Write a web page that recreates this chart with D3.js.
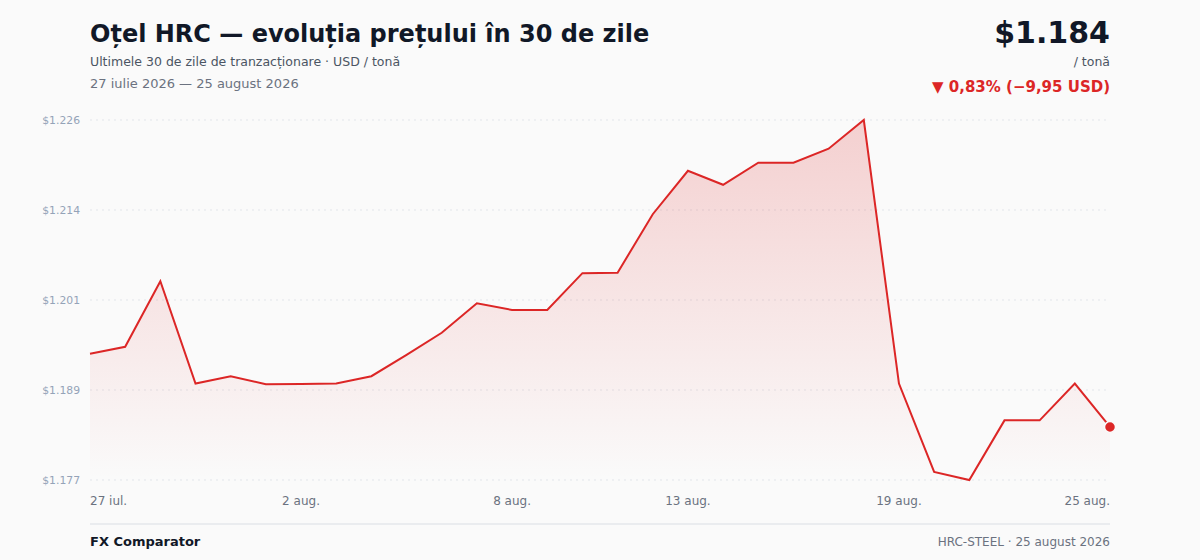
<!DOCTYPE html>
<html>
<head>
<meta charset="utf-8">
<script src="https://cdn.jsdelivr.net/npm/d3@7"></script>
<style>
  html, body { margin: 0; padding: 0; background: #fafafa; }
  body { width: 1200px; height: 560px; overflow: hidden; font-family: "DejaVu Sans", sans-serif; }
</style>
</head>
<body>
<div id="chart"></div>
<script>
// 30 zile de tranzactionare, 27 iulie - 25 august 2026
const dates = [
  "2026-07-27", "2026-07-28", "2026-07-29", "2026-07-30", "2026-07-31",
  "2026-08-01", "2026-08-02", "2026-08-03", "2026-08-04", "2026-08-05",
  "2026-08-06", "2026-08-07", "2026-08-08", "2026-08-09", "2026-08-10",
  "2026-08-11", "2026-08-12", "2026-08-13", "2026-08-14", "2026-08-15",
  "2026-08-16", "2026-08-17", "2026-08-18", "2026-08-19", "2026-08-20",
  "2026-08-21", "2026-08-22", "2026-08-23", "2026-08-24", "2026-08-25"
];

// pret USD / tona
const prices = [
  1194.15, 1195.1, 1204.0, 1190.1, 1191.1,
  1190.0, 1190.05, 1190.1, 1191.1, 1194.0,
  1197.0, 1201.0, 1200.1, 1200.1, 1205.1,
  1205.15, 1213.1, 1219.0, 1217.1, 1220.1,
  1220.1, 1222.0, 1225.9, 1190.1, 1178.1,
  1177.0, 1185.1, 1185.1, 1190.1, 1184.2
];

// indexurile zilelor etichetate pe axa x
const xTickIdx = [0, 6, 12, 17, 23, 29];
const monthShort = ["ian.", "feb.", "mar.", "apr.", "mai", "iun.", "iul.", "aug.", "sep.", "oct.", "nov.", "dec."];

const W = 1200, H = 560;
const margin = { top: 120, right: 90, bottom: 80, left: 90 };
const plotW = W - margin.left - margin.right,
      plotH = H - margin.top - margin.bottom;

const red = "#dc2626";

const data = dates.map((d, i) => ({ date: d3.timeParse("%Y-%m-%d")(d), i: i, v: prices[i] }));

const svg = d3.select("#chart").append("svg")
  .attr("width", W)
  .attr("height", H);

// romanian number format
const ro = d3.formatLocale({ decimal: ",", thousands: ".", grouping: [3], currency: ["$", ""] });
const fmtPrice = ro.format("$,.0f");
const fmt2 = ro.format(",.2f");

// scales
const x = d3.scaleLinear().domain([0, data.length - 1]).range([margin.left, margin.left + plotW]);
const yMin = d3.min(prices), yMax = d3.max(prices);
const y = d3.scaleLinear().domain([yMin, yMax]).range([margin.top + plotH, margin.top]);
const yTicks = d3.range(5).map(k => yMin + (yMax - yMin) * k / 4);

// gradient for the area
const defs = svg.append("defs");
const grad = defs.append("linearGradient")
  .attr("id", "areaGrad")
  .attr("x1", 0).attr("y1", 0).attr("x2", 0).attr("y2", 1);
grad.append("stop").attr("offset", "0%").attr("stop-color", red).attr("stop-opacity", 0.2);
grad.append("stop").attr("offset", "100%").attr("stop-color", red).attr("stop-opacity", 0.0);

// header
svg.append("text")
  .attr("x", 90).attr("y", 42)
  .attr("font-size", 24).attr("font-weight", "bold").attr("fill", "#111827")
  .text("Oțel HRC — evoluția prețului în 30 de zile");

svg.append("text")
  .attr("x", 90).attr("y", 66)
  .attr("font-size", 12.5).attr("fill", "#4b5563")
  .text("Ultimele 30 de zile de tranzacționare · USD / tonă");

svg.append("text")
  .attr("x", 90).attr("y", 88)
  .attr("font-size", 13).attr("fill", "#6b7280")
  .text("27 iulie 2026 — 25 august 2026");

const first = prices[0], last = prices[prices.length - 1];
const diff = last - first, pct = diff / first * 100;

svg.append("text")
  .attr("x", 1110).attr("y", 43).attr("text-anchor", "end")
  .attr("font-size", 30).attr("font-weight", "bold").attr("fill", "#111827")
  .text(fmtPrice(last));

svg.append("text")
  .attr("x", 1110).attr("y", 66).attr("text-anchor", "end")
  .attr("font-size", 12.5).attr("fill", "#4b5563")
  .text("/ tonă");

svg.append("text")
  .attr("x", 1110).attr("y", 92).attr("text-anchor", "end")
  .attr("font-size", 15).attr("font-weight", "bold").attr("fill", red)
  .text((diff < 0 ? "▼ " : "▲ ") + fmt2(Math.abs(pct)) + "% (" + (diff < 0 ? "−" : "+") + fmt2(Math.abs(diff)) + " USD)");

// y grid + labels
const grid = svg.append("g");
grid.selectAll("line")
  .data(yTicks)
  .enter().append("line")
  .attr("x1", margin.left).attr("x2", margin.left + plotW)
  .attr("y1", d => y(d)).attr("y2", d => y(d))
  .attr("stroke", "#e2e5ea")
  .attr("stroke-width", 1)
  .attr("stroke-dasharray", "2,4");

grid.selectAll("text")
  .data(yTicks)
  .enter().append("text")
  .attr("x", 80).attr("y", d => y(d)).attr("dy", "0.35em")
  .attr("text-anchor", "end")
  .attr("font-size", 10.8).attr("fill", "#94a3b8")
  .text(d => fmtPrice(d));

// area + line
const area = d3.area()
  .x(d => x(d.i))
  .y0(margin.top + plotH)
  .y1(d => y(d.v));

const line = d3.line()
  .x(d => x(d.i))
  .y(d => y(d.v));

svg.append("path")
  .datum(data)
  .attr("d", area)
  .attr("fill", "url(#areaGrad)");

svg.append("path")
  .datum(data)
  .attr("d", line)
  .attr("fill", "none")
  .attr("stroke", red)
  .attr("stroke-width", 2)
  .attr("stroke-linejoin", "miter");

svg.append("circle")
  .attr("cx", x(data.length - 1))
  .attr("cy", y(last))
  .attr("r", 5.5)
  .attr("fill", red)
  .attr("stroke", "#fafafa")
  .attr("stroke-width", 1.5);

// x labels
svg.append("g").selectAll("text")
  .data(xTickIdx)
  .enter().append("text")
  .attr("x", d => x(d))
  .attr("y", 505)
  .attr("text-anchor", (d, k) => k === 0 ? "start" : (k === xTickIdx.length - 1 ? "end" : "middle"))
  .attr("font-size", 12).attr("fill", "#6b7280")
  .text(d => data[d].date.getDate() + " " + monthShort[data[d].date.getMonth()]);

// footer
svg.append("line")
  .attr("x1", 90).attr("x2", 1110)
  .attr("y1", 524).attr("y2", 524)
  .attr("stroke", "#e5e7eb")
  .attr("stroke-width", 1.5);

svg.append("text")
  .attr("x", 90).attr("y", 546)
  .attr("font-size", 13).attr("font-weight", "bold").attr("fill", "#111827")
  .text("FX Comparator");

svg.append("text")
  .attr("x", 1110).attr("y", 546).attr("text-anchor", "end")
  .attr("font-size", 12).attr("fill", "#6b7280")
  .text("HRC-STEEL · 25 august 2026");
</script>
</body>
</html>
